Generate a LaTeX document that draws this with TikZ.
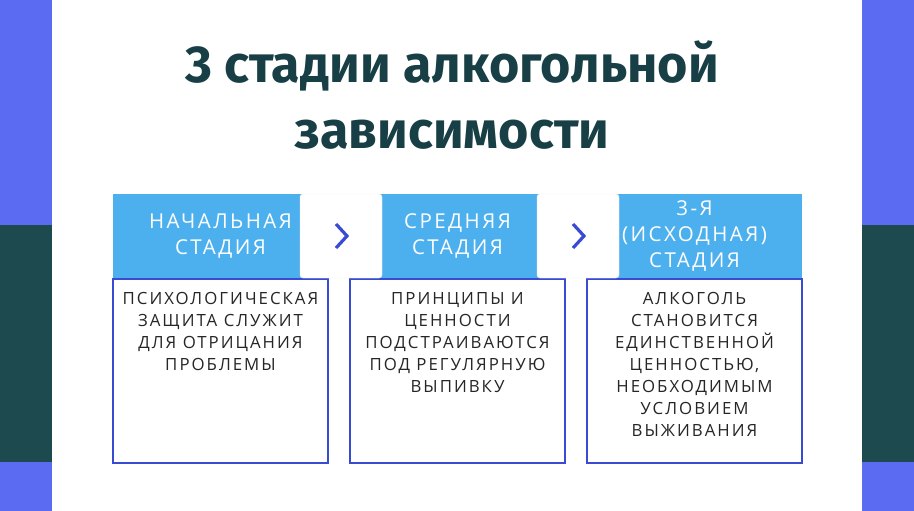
\documentclass[tikz,border=0pt]{standalone}
\usepackage{fontspec}
\setmainfont{Open Sans}
\newfontfamily\spaced[LetterSpace=12]{Open Sans}
\newfontfamily\titlefont{Fira Sans}
\usetikzlibrary{positioning}
\definecolor{sideblue}{HTML}{5B6CF2}
\definecolor{sideteal}{HTML}{1D4A4E}
\definecolor{headblue}{HTML}{4DB0EE}
\definecolor{lineblue}{HTML}{3A4BD3}
\definecolor{titleteal}{HTML}{173F45}
\definecolor{chevblue}{HTML}{3A4BD3}
\tikzset{
  headbox/.style={fill=headblue,minimum width=215pt,minimum height=84pt,inner sep=0pt,text=white,align=center,font=\spaced\fontsize{20.5}{26}\selectfont},
  bodybox/.style={draw=lineblue,line width=2.2pt,minimum width=215pt,minimum height=184pt,inner sep=0pt},
  bodytext/.style={align=center,text=black!85,font=\spaced\fontsize{16.8}{22}\selectfont},
  arrowbox/.style={fill=white,draw=black!8,rounded corners=3pt,minimum width=82pt,minimum height=84pt}
}
\begin{document}
\begin{tikzpicture}[x=1pt,y=-1pt]
  \useasboundingbox (0,0) rectangle (914,511);
  % side stripes
  \fill[sideblue] (0,0) rectangle (914,511);
  \fill[sideteal] (0,225) rectangle (914,462);
  \fill[white] (52,0) rectangle (862,511);
  % title
  \node[text=titleteal,align=center,font=\titlefont\bfseries\fontsize{52}{66}\selectfont] (title) at (452,95) {3 стадии алкогольной\\зависимости};
  % columns
  \node[headbox] (h1) at (220.5,236) {НАЧАЛЬНАЯ\\СТАДИЯ};
  \node[headbox] (h2) at (457.5,236) {СРЕДНЯЯ\\СТАДИЯ};
  \node[headbox] (h3) at (694.5,236) {3-Я\\(ИСХОДНАЯ)\\СТАДИЯ};
  \node[bodybox,below=0pt of h1] (b1) {};
  \node[bodybox,below=0pt of h2] (b2) {};
  \node[bodybox,below=0pt of h3] (b3) {};
  \node[bodytext,below=11pt of b1.north] (t1) {ПСИХОЛОГИЧЕСКАЯ\\ЗАЩИТА СЛУЖИТ\\ДЛЯ ОТРИЦАНИЯ\\ПРОБЛЕМЫ};
  \node[bodytext,below=11pt of b2.north] (t2) {ПРИНЦИПЫ И\\ЦЕННОСТИ\\ПОДСТРАИВАЮТСЯ\\ПОД РЕГУЛЯРНУЮ\\ВЫПИВКУ};
  \node[bodytext,below=11pt of b3.north] (t3) {АЛКОГОЛЬ\\СТАНОВИТСЯ\\ЕДИНСТВЕННОЙ\\ЦЕННОСТЬЮ,\\НЕОБХОДИМЫМ\\УСЛОВИЕМ\\ВЫЖИВАНИЯ};
  % arrows
  \node[arrowbox] (a1) at (341,236) {};
  \node[arrowbox] (a2) at (578,236) {};
  \foreach \a in {a1,a2}
    \draw[chevblue,line width=3.2pt] ([xshift=-5pt,yshift=12pt]\a.center) -- ([xshift=6pt]\a.center) -- ([xshift=-5pt,yshift=-12pt]\a.center);
\end{tikzpicture}
\end{document}
